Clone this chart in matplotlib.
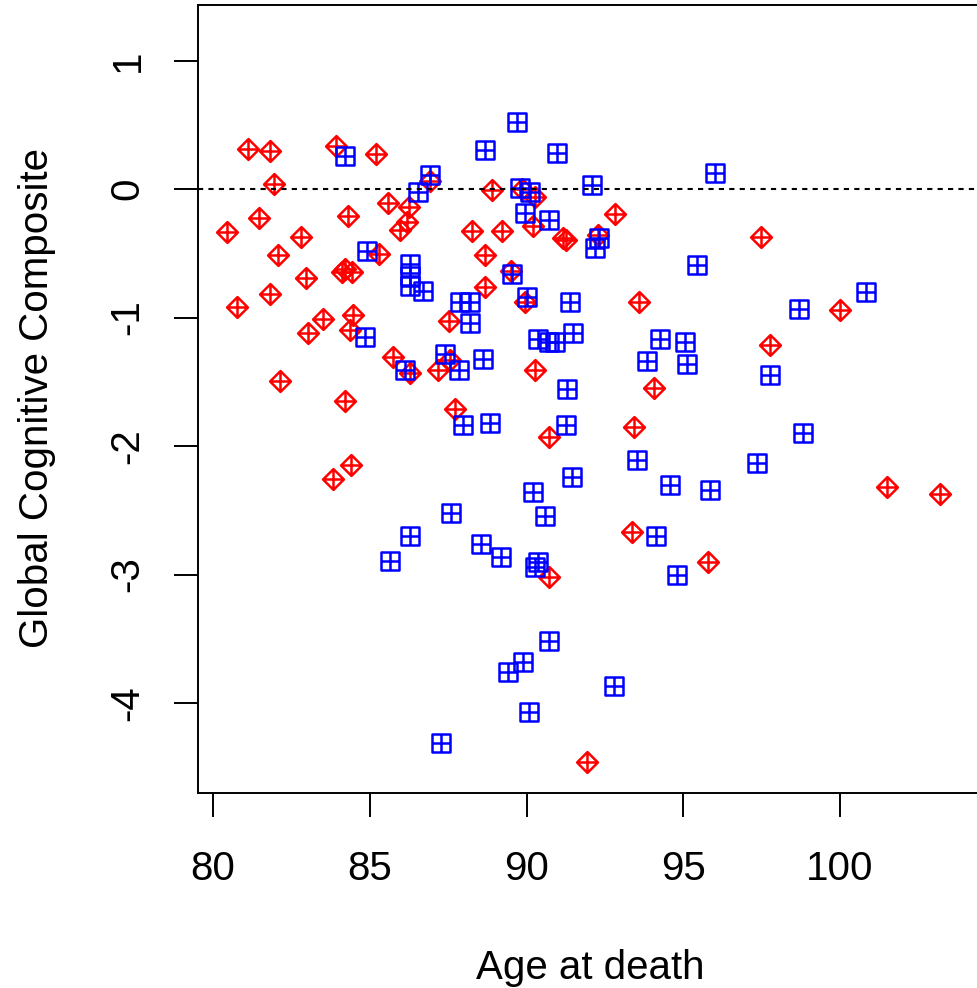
import matplotlib; matplotlib.use("Agg")
import matplotlib.pyplot as plt
import numpy as np
from matplotlib.path import Path

plt.rcParams["font.family"] = ["Liberation Sans", "DejaVu Sans"]
plt.rcParams["axes.unicode_minus"] = False

# group 1 (red, diamond-plus)
red_age = [80.45, 80.77, 81.12, 81.47, 81.82, 81.82, 81.95, 82.07, 82.14, 82.81,
           82.97, 83.03, 83.51, 83.83, 83.92, 84.10, 84.21, 84.31, 84.40, 84.36,
           84.47, 84.43, 84.22, 85.20, 85.30, 85.58, 85.75, 85.96, 86.25, 86.19,
           86.28, 86.92, 87.19, 87.51, 87.56, 87.72, 88.25, 88.68, 88.68, 88.89,
           89.21, 89.50, 89.84, 89.95, 90.27, 90.22, 90.27, 90.70, 90.70, 91.17,
           91.25, 91.94, 92.29, 92.82, 93.35, 93.43, 93.57, 94.05, 95.80, 97.48,
           97.77, 100.00, 101.49, 103.19]
red_gcc = [-0.335, -0.918, 0.311, -0.226, 0.296, -0.817, 0.039, -0.514, -1.494, -0.374,
           -0.693, -1.121, -1.012, -2.257, 0.335, -0.645, -1.650, -0.210, -2.148, -1.097,
           -0.981, -0.645, -0.620, 0.272, -0.506, -0.109, -1.310, -0.320, -0.140, -0.257,
           -1.430, 0.060, -1.410, -1.030, -1.330, -1.710, -0.330, -0.510, -0.760, -0.008,
           -0.330, -0.640, 0.000, -0.880, -0.060, -0.290, -1.410, -1.930, -3.020, -0.380,
           -0.400, -4.460, -0.360, -0.195, -2.670, -1.850, -0.880, -1.550, -2.900, -0.370,
           -1.210, -0.940, -2.320, -2.370]

# group 2 (blue, square-plus)
blue_age = [84.20, 84.92, 84.84, 86.12, 85.65, 86.28, 86.28, 86.28, 86.28, 86.70,
            86.53, 86.92, 87.26, 87.40, 87.58, 87.86, 87.88, 87.98, 88.20, 88.20,
            88.54, 88.62, 88.68, 88.84, 89.19, 89.42, 89.53, 89.70, 89.79, 89.90,
            89.95, 90.00, 90.07, 90.11, 90.22, 90.27, 90.38, 90.38, 90.59, 90.70,
            90.70, 90.72, 90.91, 90.96, 91.26, 91.28, 91.39, 91.44, 91.49, 92.08,
            92.19, 92.32, 92.79, 93.53, 93.83, 94.13, 94.26, 94.58, 94.81, 95.06,
            95.11, 95.43, 95.85, 96.01, 97.34, 97.77, 98.70, 98.83, 100.83]
blue_gcc = [0.260, -0.480, -1.150, -1.410, -2.895, -2.700, -0.580, -0.680, -0.755, -0.790,
            -0.020, 0.109, -4.310, -1.280, -2.520, -1.410, -0.880, -1.840, -0.880, -1.045,
            -2.760, -1.325, 0.300, -1.820, -2.860, -3.760, -0.660, 0.520, 0.005, -3.680,
            -0.190, -0.840, -4.070, -0.020, -2.360, -2.940, -2.900, -1.170, -2.545, -0.240,
            -3.520, -1.190, -1.190, 0.280, -1.840, -1.560, -0.880, -2.240, -1.120, 0.031,
            -0.460, -0.380, -3.870, -2.110, -1.340, -2.700, -1.170, -2.300, -3.000, -1.190,
            -1.360, -0.590, -2.340, 0.127, -2.130, -1.450, -0.930, -1.900, -0.800]

x_ticks = [80, 85, 90, 95, 100]
y_ticks = [-4, -3, -2, -1, 0, 1]

M, L, C = Path.MOVETO, Path.LINETO, Path.CLOSEPOLY
diamond_plus = Path([(0, 1), (1, 0), (0, -1), (-1, 0), (0, 1),
                     (-1, 0), (1, 0), (0, -1), (0, 1)],
                    [M, L, L, L, C, M, L, M, L])
square_plus = Path([(-1, -1), (1, -1), (1, 1), (-1, 1), (-1, -1),
                    (-1, 0), (1, 0), (0, -1), (0, 1)],
                   [M, L, L, L, C, M, L, M, L])

W, H = 977, 988
fig = plt.figure(figsize=(W / 100, H / 100), dpi=100)
ax = fig.add_axes([198 / W, (H - 793) / H, (1000 - 198) / W, (793 - 5) / H])

ax.plot(red_age, red_gcc, linestyle="none", marker=diamond_plus, ms=15,
        mfc="none", mec="#ff0000", mew=1.8)
ax.plot(blue_age, blue_gcc, linestyle="none", marker=square_plus, ms=13.5,
        mfc="none", mec="#0000ff", mew=1.8)
ax.axhline(0, color="black", lw=1.5, linestyle=(0, (2.5, 2.5)))

ax.set_xlim(79.52, 105.10)
ax.set_ylim(-4.70, 1.432)
ax.set_xticks(x_ticks)
ax.set_yticks(y_ticks)
for s in ax.spines.values():
    s.set_linewidth(1.4)
ax.tick_params(length=17, width=1.4, labelsize=29)
ax.tick_params(axis="x", pad=24)
ax.tick_params(axis="y", pad=20)
for t in ax.get_yticklabels():
    t.set_rotation(90)
    t.set_va("center")

fig.text(590 / W, 1 - 968 / H, "Age at death", ha="center", va="center", fontsize=29)
fig.text(37 / W, 1 - 398 / H, "Global Cognitive Composite", ha="center", va="center",
         rotation=90, fontsize=29)

fig.savefig("out.png", dpi=100)
